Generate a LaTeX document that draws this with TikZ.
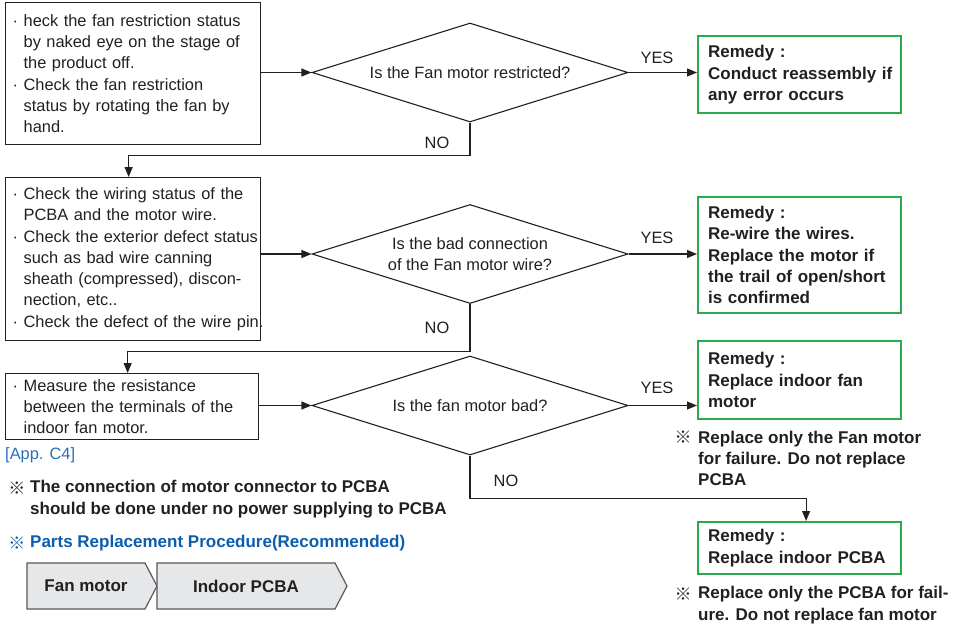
\documentclass[tikz,border=0pt]{standalone}
\usepackage{fontspec}
\setmainfont{Liberation Sans}
\newfontfamily\rfont{Liberation Sans}
\newfontfamily\cjk{Noto Sans CJK JP}
\usetikzlibrary{arrows.meta,shapes.geometric,shapes.symbols}
\definecolor{txt}{HTML}{231F20}
\definecolor{grn}{HTML}{2DA84E}
\definecolor{blu}{HTML}{0C5DAE}
\definecolor{blu2}{HTML}{2B6DB8}
\definecolor{chevfill}{HTML}{E6E7E8}
\definecolor{chevline}{HTML}{58595B}
\newcommand\fs{\fontsize{16.4}{21.3}\selectfont}
\newcommand\fb{\fontsize{17}{21.3}\selectfont}
\newcommand\bl{\makebox[11pt][l]{·}}
\newcommand\ii{\hspace*{11pt}}
\newcommand\mb[1]{\mbox{#1}}
\begin{document}
\begin{tikzpicture}[x=1pt,y=-1pt,
  reg/.style={font=\fs\rfont, text=txt},
  bld/.style={font=\fb\bfseries, text=txt},
  procbox/.style={reg, draw=txt, line width=1.3pt, anchor=north west, inner xsep=7pt, inner ysep=0pt, align=left},
  dia/.style={reg, diamond, draw=txt, line width=1.1pt, aspect=3.19, minimum width=316pt, minimum height=99pt, inner sep=0pt, align=center},
  gbox/.style={bld, draw=grn, line width=2.2pt, anchor=north west, text width=183pt, inner xsep=10pt, inner ysep=0pt, align=left},
  lbl/.style={reg, inner sep=0pt},
  arr/.style={draw=txt, line width=1.1pt, -{Triangle[length=10pt,width=8pt]}},
  chev/.style={bld, signal, signal to=east, signal pointer angle=125, draw=chevline, line width=1.2pt, fill=chevfill, minimum height=46pt, inner sep=0pt},
  sym/.style={font=\fontsize{17}{18}\selectfont\cjk, inner sep=0pt},
  note/.style={bld, anchor=west, inner sep=0pt, align=left}
]
\useasboundingbox (0,0) rectangle (955,625);

% process boxes
\node[procbox, text width=241pt, minimum height=142pt] (b1) at (5,2)
  {\bl\mb{heck the fan restriction status}\\
   \ii\mb{by naked eye on the stage of}\\
   \ii\mb{the product off.}\\
   \bl\mb{Check the fan restriction}\\
   \ii\mb{status by rotating the fan by}\\
   \ii\mb{hand.}};
\node[procbox, text width=241pt, minimum height=163pt] (b2) at (5,177)
  {\bl\mb{Check the wiring status of the}\\
   \ii\mb{PCBA and the motor wire.}\\
   \bl\mb{Check the exterior defect status}\\
   \ii\mb{such as bad wire canning}\\
   \ii\mb{sheath (compressed), discon-}\\
   \ii\mb{nection, etc..}\\
   \bl\mb{Check the defect of the wire pin.}};
\node[procbox, text width=239pt, minimum height=66pt] (b3) at (5,373)
  {\bl\mb{Measure the resistance}\\
   \ii\mb{between the terminals of the}\\
   \ii\mb{indoor fan motor.}};

% decisions
\node[dia] (d1) at (470,72.5) {Is the Fan motor restricted?};
\node[dia] (d2) at (470,254) {Is the bad connection\\of the Fan motor wire?};
\node[dia] (d3) at (470,405.5) {Is the fan motor bad?};

% remedies
\node[gbox, minimum height=77pt] (g1) at (697,35)
  {Remedy :\\\mb{Conduct reassembly if}\\any error occurs};
\node[gbox, minimum height=116pt] (g2) at (697,196)
  {Remedy :\\\mb{Re-wire the wires.}\\\mb{Replace the motor if}\\\mb{the trail of open/short}\\is confirmed};
\node[gbox, minimum height=78pt] (g3) at (697,340)
  {Remedy :\\\mb{Replace indoor fan}\\motor};
\node[gbox, minimum height=52pt] (g4) at (697,521)
  {Remedy :\\\mb{Replace indoor PCBA}};

% connectors
\draw[arr] (b1.east |- d1.west) -- (d1.west);
\draw[arr] (b2.east |- d2.west) -- (d2.west);
\draw[arr] (b3.east |- d3.west) -- (d3.west);
\draw[arr] (d1.east) -- (d1.east -| g1.west);
\draw[arr] (d2.east) -- (d2.east -| g2.west);
\draw[arr] (d3.east) -- (d3.east -| g3.west);
\draw[arr] (d1.south) -- ++(0,33) -| ([xshift=-4.5pt]b2.north);
\draw[arr] (d2.south) -- ++(0,47) -| ([xshift=-4.5pt]b3.north);
\draw[arr] (d3.south) -- ++(0,43) -| ([xshift=6.5pt]g4.north);

% branch labels
\node[lbl] (y1) at (657,58) {YES};
\node[lbl] (y2) at (657,238) {YES};
\node[lbl] (y3) at (657,388) {YES};
\node[lbl] (n1) at (437,143) {NO};
\node[lbl] (n2) at (437,328) {NO};
\node[lbl] (n3) at (506,481) {NO};

% notes
\node[reg, text=blu2, anchor=west, inner sep=0pt] (app) at (5,455) {[App. C4]};
\node[sym, text=txt] (s1) at (683,437) {※};
\node[note] (t1) at (698,458.5) {Replace only the Fan motor\\for failure. Do not replace\\PCBA};
\node[sym, text=txt] (s2) at (683,594) {※};
\node[note] (t2) at (698,605) {\mb{Replace only the PCBA for fail-}\\\mb{ure. Do not replace fan motor}};
\node[sym, text=txt] (s3) at (17,488) {※};
\node[note] (t3) at (30,499) {\mb{The connection of motor connector to PCBA}\\\mb{should be done under no power supplying to PCBA}};
\node[sym, text=blu] (s4) at (17,543) {※};
\node[note, text=blu] (t4) at (30,543) {Parts Replacement Procedure(Recommended)};

% replacement procedure
\node[chev, minimum width=130pt] (c1) at (86,586) {Fan motor};
\node[chev, minimum width=190pt] (c2) at (246,586) {Indoor PCBA};
\end{tikzpicture}
\end{document}
